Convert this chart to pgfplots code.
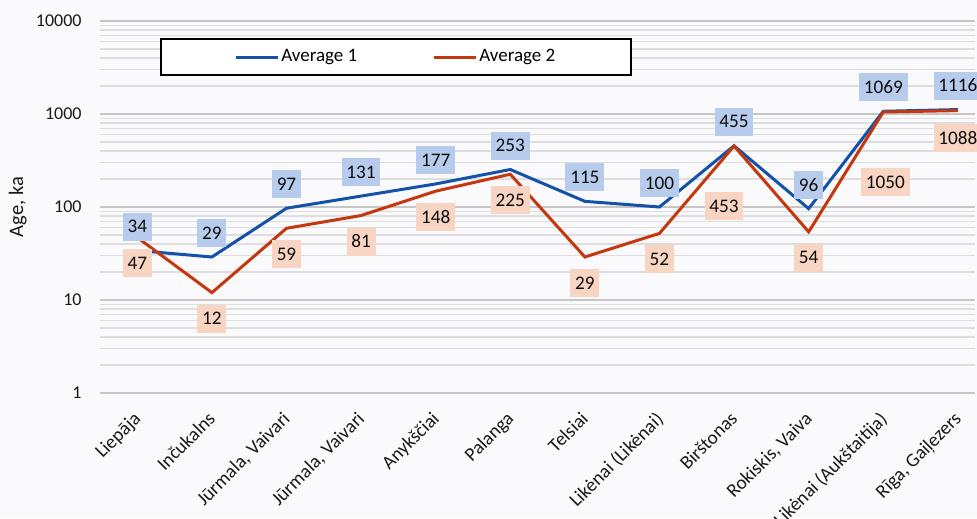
\documentclass[border=0pt]{standalone}
\usepackage{pgfplots}
\pgfplotsset{compat=1.18}
\usepackage{pgfplotstable}
\usepackage{fontspec}
\setmainfont{Carlito}
\definecolor{blueline}{RGB}{20,82,170}
\definecolor{redline}{RGB}{196,56,16}
\definecolor{bluebox}{RGB}{183,204,236}
\definecolor{peachbox}{RGB}{248,213,194}
\definecolor{bg}{RGB}{250,250,252}
\definecolor{majgrid}{RGB}{198,198,198}
\definecolor{mingrid}{RGB}{222,222,224}

\pgfplotstableread{
x a1 a2 off2 dx2
0 34 47 -13 0
1 29 12 -13 0
2 97 59 -13 0
3 131 81 -13 0
4 177 148 -13 0
5 253 225 -13 0
6 115 29 -13 0
7 100 52 -13 0
8 455 453 -30 -5
9 96 54 -13 0
10 1069 1050 -35 1
11 1116 1088 -13.5 0
}\datatable

\begin{document}
\begin{tikzpicture}
\useasboundingbox (-50pt,-62.5pt) rectangle (438.5pt,196.5pt);
\fill[bg] (-50pt,-62.5pt) rectangle (438.5pt,196.5pt);
\begin{axis}[
  scale only axis, width=437.5pt, height=186pt,
  at={(0,0)}, anchor=south west,
  ymode=log, ymin=1, ymax=10000,
  xmin=-0.5, xmax=11.23,
  xtick={0,...,11},
  xticklabels={Liepāja, Inčukalns, {Jūrmala, Vaivari}, {Jūrmala, Vaivari}, Anykščiai, Palanga, Telsiai, Likėnai (Likėnai), Birštonas, {Rokiskis, Vaiva}, Likėnai (Aukštaitija), {Rīga, Gaiļezers}},
  ytick={1,10,100,1000,10000},
  yticklabels={1,10,100,1000,10000},
  minor ytick={2,3,4,5,6,7,8,9,20,30,40,50,60,70,80,90,200,300,400,500,600,700,800,900,2000,3000,4000,5000,6000,7000,8000,9000},
  ymajorgrids, yminorgrids,
  major grid style={majgrid, line width=0.9pt},
  minor grid style={mingrid, line width=0.6pt},
  axis line style={draw=none}, tick style={draw=none},
  /pgf/number format/assume math mode=true,
  tick label style={font=\fontsize{9}{11}\selectfont, text=black!90},
  yticklabel style={anchor=east, inner sep=0pt, xshift=-9pt},
  xticklabel style={xshift=-2.5pt, yshift=-8.5pt, rotate=45, anchor=north east, inner sep=0pt, font=\fontsize{9.6}{11}\selectfont},
  ylabel={Age, ka},
  ylabel style={at={(axis description cs:-0.094,0.5)}, anchor=center, font=\fontsize{10.3}{12}\selectfont, text=black!90},
  legend columns=2,
  legend cell align=left,
  legend style={at={(axis description cs:0.0686,0.954)}, anchor=north west,
    draw=black, line width=0.75pt, fill=white, inner xsep=37pt, inner ysep=4.5pt,
    font=\fontsize{9.5}{11}\selectfont,
    nodes={inner sep=0.75pt},
    /tikz/every even column/.append style={column sep=37pt}},
  legend image code/.code={\draw[#1] (0pt,0pt) -- (21pt,0pt);},
  nodes near coords={\pgfplotspointmeta},
  point meta=explicit symbolic,
  every node near coord/.append style={anchor=center, inner xsep=2.4pt, inner ysep=0pt,
    minimum height=14pt, font=\fontsize{9.6}{11}\selectfont, text=black!95},
]
\addplot[blueline, line width=1.5pt, no marks,
  every node near coord/.append style={fill=bluebox, yshift=12pt}]
  table[x=x, y=a1, meta=a1] {\datatable};
\addlegendentry{Average 1}
\addplot[redline, line width=1.5pt, no marks,
  visualization depends on={\thisrow{off2} \as \offtwo},
  visualization depends on={\thisrow{dx2} \as \dxtwo},
  every node near coord/.append style={fill=peachbox, yshift=\offtwo pt, xshift=\dxtwo pt}]
  table[x=x, y=a2, meta=a2] {\datatable};
\addlegendentry{Average 2}
\end{axis}
\end{tikzpicture}
\end{document}
